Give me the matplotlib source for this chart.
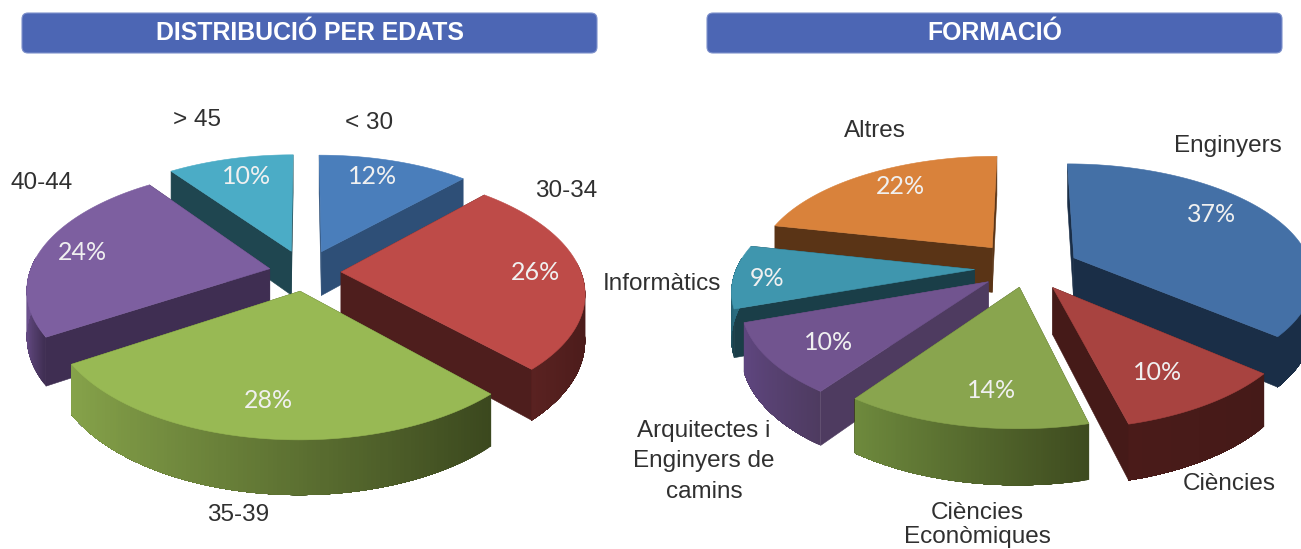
import numpy as np
import matplotlib
matplotlib.use('Agg')
import matplotlib.pyplot as plt
from matplotlib.colors import to_rgb
from matplotlib.patches import FancyBboxPatch, Polygon

plt.rcParams['font.family'] = ['Liberation Sans', 'DejaVu Sans']

# data
age_labels = ['< 30', '30-34', '35-39', '40-44', '> 45']
age_values = [12, 26, 28, 24, 10]
edu_labels = ['Enginyers', 'Ciències', 'Ciències\nEconòmiques',
              'Arquitectes i\nEnginyers de\ncamins', 'Informàtics', 'Altres']
edu_values = [37, 10, 14, 10, 9, 22]

# styles, one row per slice: top, cut faces, rim light, rim dark
age_colors = [('#4A7EBB', '#2E4F77', '#2E4F77', '#2E4F77'),
              ('#BE4B48', '#4E1E1D', '#5A2221', '#4A1B1A'),
              ('#98B954', '#3E4C20', '#86A34A', '#3B481E'),
              ('#7D5FA0', '#3F2E52', '#6E5290', '#3F2E52'),
              ('#4BACC6', '#1F4650', '#1F4650', '#1F4650')]
edu_colors = [('#4470A6', '#1A2E47', '#1A2E47', '#1A2E47'),
              ('#A84340', '#451A18', '#4A1B19', '#451A18'),
              ('#89A54E', '#3F4D20', '#6E8A3D', '#3E4B1F'),
              ('#71548F', '#4E3B60', '#5F4680', '#4E3B60'),
              ('#3F96AE', '#1A3E48', '#2A6C80', '#1A3E48'),
              ('#D9823B', '#5A3416', '#5A3416', '#5A3416')]
age_explode = [.19, .15, .16, .15, .19]
edu_explode = [.22, .2, .17, .2, .22, .24]


def project(x, y, z, geo):
    f = 1 / (1 + geo['k'] * y)
    return geo['cx'] + geo['rx'] * x * f, geo['cy'] - geo['ry'] * y * f + geo['h'] * z * f


def draw_rim(ax, xs, ys, col, geo):
    # each strip runs on to the end of the rim so no seams show between strips
    top = [project(x, y, 0, geo) for x, y in zip(xs, ys)]
    low = [project(x, y, 1, geo) for x, y in zip(xs, ys)]
    lo, hi = np.array(to_rgb(col[2])), np.array(to_rgb(col[3]))
    span = max(xs.max() - xs.min(), 1e-6)
    for j in range(len(xs) - 1):
        t = (xs[j] - xs.min()) / span
        c = tuple(lo + (hi - lo) * t)
        ax.add_patch(Polygon(top[j:] + low[j:][::-1], fc=c, ec='none'))


def draw_pie(ax, values, colors, explode, geo):
    total = sum(values)
    edges = np.cumsum([0] + list(values)) * 360 / total
    slices = []
    for i, v in enumerate(values):
        a0, a1 = np.radians(edges[i]), np.radians(edges[i + 1])
        mid = (a0 + a1) / 2
        ox, oy = explode[i] * np.sin(mid), explode[i] * np.cos(mid)
        slices.append((a0, a1, ox, oy, colors[i]))
    # far slices first
    for a0, a1, ox, oy, col in sorted(slices, key=lambda s: -s[3]):
        th = np.linspace(a0, a1, 120)
        xs = ox + np.sin(th)
        ys = oy + np.cos(th)
        # cut faces
        for a in (a0, a1):
            ex, ey = ox + np.sin(a), oy + np.cos(a)
            pts = [project(ox, oy, 0, geo), project(ex, ey, 0, geo),
                   project(ex, ey, 1, geo), project(ox, oy, 1, geo)]
            ax.add_patch(Polygon(pts, fc=col[1], ec=col[1], lw=.4))
        # outer rim, only the part that faces us
        front = np.cos(th) <= 0.1
        if front.sum() > 1:
            draw_rim(ax, xs[front], ys[front], col, geo)
        # top
        top = [project(ox, oy, 0, geo)] + [project(x, y, 0, geo) for x, y in zip(xs, ys)]
        ax.add_patch(Polygon(top, fc=col[0], ec=col[0], lw=.4))


def header(ax, x0, x1, text):
    ax.add_patch(FancyBboxPatch((x0, 13), x1 - x0, 40, boxstyle='round,pad=0,rounding_size=6',
                                fc='#4C66B4', ec='#7F92CC', lw=.8))
    ax.text((x0 + x1) / 2 + .5, 33, text, color='white', fontsize=17.9, fontweight='bold',
            ha='center', va='center')


fig = plt.figure(figsize=(13.01, 5.49), dpi=100)
ax = fig.add_axes([0, 0, 1, 1])

header(ax, 22, 597, 'DISTRIBUCIÓ PER EDATS')
header(ax, 707, 1282, 'FORMACIÓ')

age_geo = dict(cx=305, cy=272, rx=240, ry=118, h=45, k=.16)
edu_geo = dict(cx=1027, cy=268, rx=238, ry=112, h=46, k=.16)

draw_pie(ax, age_values, age_colors, age_explode, age_geo)
draw_pie(ax, edu_values, edu_colors, edu_explode, edu_geo)

age_pct_xy = [(373, 177), (536, 272), (268, 400), (82, 252), (247, 177)]
edu_pct_xy = [(1212, 214), (1158, 372), (992, 390), (829, 342), (767, 278), (900, 186)]
for v, (x, y) in zip(age_values + edu_values, age_pct_xy + edu_pct_xy):
    ax.text(x, y, f'{v}%', color='#F0F0F0', fontsize=18, family=['Lato', 'DejaVu Sans'],
            ha='center', va='center')

age_label_xy = [(369, 123), (566, 191), (238, 515), (42, 183), (197, 120)]
edu_label_xy = [(1228, 146), (1229, 484), (977, 525), (704, 461), (662, 284), (875, 131)]
for lab, (x, y) in zip(age_labels, age_label_xy):
    ax.text(x, y, lab, fontsize=17.5, color='#303030', ha='center', va='center')
for lab, (x, y) in zip(edu_labels, edu_label_xy):
    ax.text(x, y, lab, fontsize=17.5, color='#303030', ha='center', va='center',
            linespacing=1.5 if lab.count('\n') == 2 else 1.15)

ax.set_xlim(0, 1301)
ax.set_ylim(549, 0)
ax.axis('off')

fig.savefig('out.png', dpi=100)
